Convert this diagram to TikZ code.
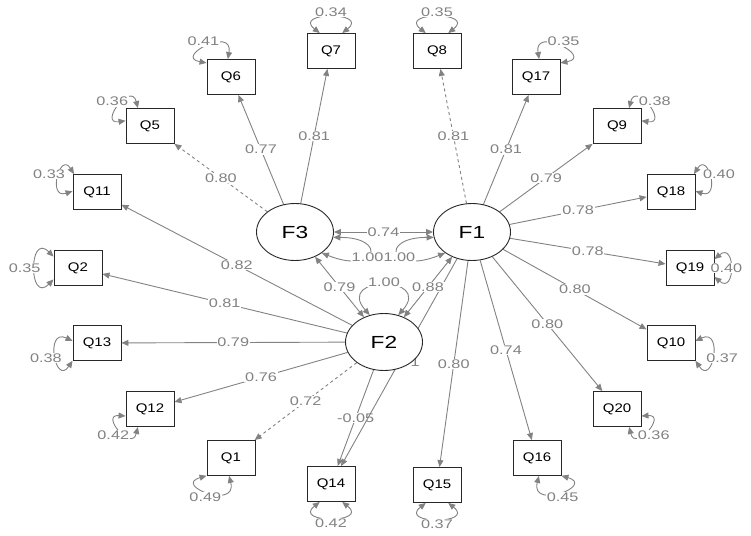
\documentclass[tikz,border=0pt]{standalone}
\usepackage{fontspec}
\setmainfont{Liberation Sans}
\newfontfamily\semfont[FakeStretch=1.2]{Liberation Sans}
\newfontfamily\semwide[FakeStretch=1.3]{Liberation Sans}
\usetikzlibrary{arrows.meta,shapes.geometric}
\pgfdeclarelayer{bg}\pgfsetlayers{bg,main}
\definecolor{pathgray}{RGB}{130,130,130}
\definecolor{boxgray}{RGB}{40,40,40}
\newcommand{\resloop}[5]{\pgfmathsetmacro{\rsOut}{#2+20}\pgfmathsetmacro{\rsIn}{#3-20}\pgfmathsetmacro{\rsMid}{(#2+#3)/2}%
	\draw[cov] (#1.#2) to[out=\rsOut,in=\rsIn,looseness=4] node[lbl,shift={(\rsMid:#5)}] {#4} (#1.#3);}
\begin{document}
\begin{tikzpicture}[x=1pt,y=1pt,>={Triangle[length=7pt,width=6pt]},
	ind/.style={draw=boxgray,line width=0.9pt,fill=white,minimum width=48pt,minimum height=35pt,inner sep=0pt,font=\semfont\fontsize{12.5}{13}\selectfont},
	lat/.style={ellipse,draw=boxgray,line width=0.9pt,fill=white,minimum width=77pt,minimum height=57pt,inner sep=0pt,font=\semwide\fontsize{17.5}{18}\selectfont},
	load/.style={->,draw=pathgray,line width=0.9pt},
	cov/.style={<->,draw=pathgray,line width=0.9pt},
	lbl/.style={midway,fill=white,inner sep=0.8pt,text=pathgray,font=\semwide\fontsize{12.5}{13}\selectfont}]
	\useasboundingbox (0,0) rectangle (751,-535);
	\node[lat] (F3) at (295,-232) {F3};\node[lat] (F1) at (472,-232) {F1};\node[lat] (F2) at (384,-342) {F2};
	\foreach \n/\x/\y in {Q7/331/51,Q6/231/77,Q5/150/126,Q11/97/192,Q2/78/268,Q13/97/343,Q12/150/409,Q1/231/458,Q14/331/484,
		Q15/437/485,Q16/537/458,Q20/617/409,Q10/671/343,Q19/690/268,Q18/671/192,Q9/617/126,Q17/536/77,Q8/437/51}
		\node[ind] (\n) at (\x,-\y) {\n};
	\begin{pgfonlayer}{bg}
		\foreach \q/\v in {Q7/0.81,Q6/0.77} \draw[load] (F3) -- node[lbl] {\v} (\q);
		\draw[load,dashed] (F3) -- node[lbl] {0.80} (Q5);
		\foreach \q/\v in {Q11/0.82,Q2/0.81,Q13/0.79,Q12/0.76,Q14/-0.05} \draw[load] (F2) -- node[lbl] {\v} (\q);
		\draw[load,dashed] (F2) -- node[lbl] {0.72} (Q1);
		\foreach \q/\v in {Q17/0.81,Q9/0.79,Q18/0.78,Q19/0.78,Q10/0.80,Q20/0.80,Q16/0.74,Q15/0.80} \draw[load] (F1) -- node[lbl] {\v} (\q);
		\draw[load,dashed] (F1) -- node[lbl] {0.81} (Q8);
		\draw[load] (F1) -- node[lbl,xshift=16pt] {1} (Q14);
	\end{pgfonlayer}
	\draw[cov] (F3) -- node[lbl] {0.74} (F1);\draw[cov] (F3) -- node[lbl] {0.79} (F2);\draw[cov] (F1) -- node[lbl] {0.88} (F2);
	\draw[cov] (F3.352) .. controls +(55,0) and +(55,-22) .. node[lbl,pos=0.55,yshift=-2pt] {1.00} (F3.322);
	\draw[cov] (F1.188) .. controls +(-55,0) and +(-55,-22) .. node[lbl,pos=0.55,yshift=-2pt] {1.00} (F1.218);
	\draw[cov] (F2.118) .. controls +(-35,40) and +(35,40) .. node[lbl,yshift=3pt] {1.00} (F2.62);
	\foreach \n/\s/\e/\v/\d in {Q7/122/58/0.34/5,Q8/122/58/0.35/5,Q6/150/100/0.41/6,Q17/80/30/0.35/6,Q5/168/124/0.36/8,Q9/56/12/0.38/8,
		Q11/178/142/0.33/10,Q18/38/2/0.40/10,Q2/205/155/0.35/10,Q19/380/340/0.40/-4,Q13/216/175/0.38/10,Q10/365/324/0.37/10,
		Q12/236/196/0.42/8,Q20/344/304/0.36/8,Q1/264/216/0.49/6,Q16/324/276/0.45/6,Q14/302/238/0.42/5,Q15/302/238/0.37/5}
		\resloop{\n}{\s}{\e}{\v}{\d};
\end{tikzpicture}
\end{document}
